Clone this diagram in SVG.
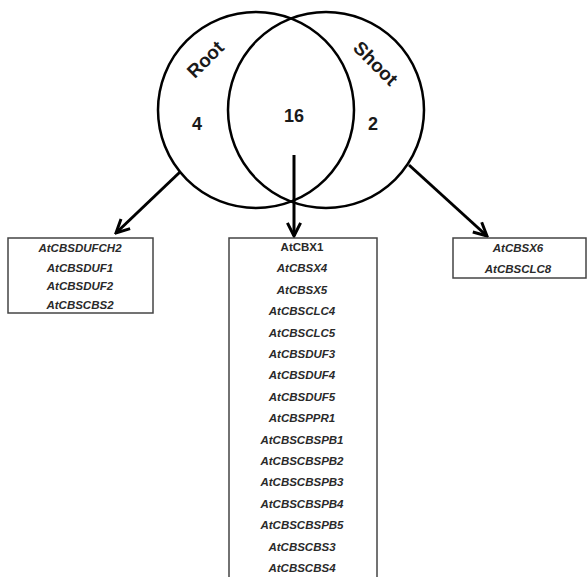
<svg xmlns="http://www.w3.org/2000/svg" width="588" height="577" viewBox="0 0 588 577">
<style>
.c{fill:none;stroke:#000;stroke-width:2.5}
.lbl{font-family:"Liberation Sans",Arial,sans-serif;font-weight:bold;font-size:19px;fill:#1a1a1a;text-anchor:middle}
.num{font-size:18px}
.box{fill:#fff;stroke:#444;stroke-width:1.5}
.g{font-family:"Liberation Sans",Arial,sans-serif;font-weight:bold;font-style:italic;font-size:11.5px;fill:#2a2a2a;text-anchor:middle}
.up{font-style:normal}
.arr{stroke:#000;stroke-width:3;fill:none}
</style>
<defs>
<marker id="ah" viewBox="0 0 10 10" refX="9" refY="5" markerWidth="5.5" markerHeight="5.5" orient="auto" markerUnits="strokeWidth">
<path d="M1,1 L9,5 L1,9" fill="none" stroke="#000" stroke-width="1.8"/>
</marker>
</defs>
<g id="venn">
<circle class="c" cx="256" cy="110" r="98"/>
<circle class="c" cx="326" cy="110" r="98"/>
<text class="lbl" transform="translate(210,64) rotate(-45)">Root</text>
<text class="lbl" transform="translate(371,68) rotate(45)">Shoot</text>
<text class="lbl num" x="197" y="130">4</text>
<text class="lbl num" x="294" y="122">16</text>
<text class="lbl num" x="373" y="130">2</text>
</g>
<g id="connectors">
<line class="arr" x1="180" y1="172" x2="116" y2="233" marker-end="url(#ah)"/>
<line class="arr" x1="294" y1="155" x2="294" y2="236" marker-end="url(#ah)"/>
<line class="arr" x1="409" y1="165" x2="487" y2="236" marker-end="url(#ah)"/>
</g>
<g id="root-box">
<rect class="box" x="8" y="238" width="145" height="75"/>
<text class="g" x="80" y="252">AtCBSDUFCH2</text>
<text class="g" x="80" y="271.5">AtCBSDUF1</text>
<text class="g" x="80" y="290">AtCBSDUF2</text>
<text class="g" x="80" y="308.5">AtCBSCBS2</text>
</g>
<g id="shared-box">
<rect class="box" x="229" y="238" width="148" height="360"/>
<text class="g up" x="302" y="251">AtCBX1</text>
<text class="g" x="302" y="272.4">AtCBSX4</text>
<text class="g" x="302" y="293.8">AtCBSX5</text>
<text class="g" x="302" y="315.2">AtCBSCLC4</text>
<text class="g" x="302" y="336.6">AtCBSCLC5</text>
<text class="g" x="302" y="358">AtCBSDUF3</text>
<text class="g" x="302" y="379.4">AtCBSDUF4</text>
<text class="g" x="302" y="400.8">AtCBSDUF5</text>
<text class="g" x="302" y="422.2">AtCBSPPR1</text>
<text class="g" x="302" y="443.6">AtCBSCBSPB1</text>
<text class="g" x="302" y="465">AtCBSCBSPB2</text>
<text class="g" x="302" y="486.4">AtCBSCBSPB3</text>
<text class="g" x="302" y="507.8">AtCBSCBSPB4</text>
<text class="g" x="302" y="529.2">AtCBSCBSPB5</text>
<text class="g" x="302" y="550.6">AtCBSCBS3</text>
<text class="g" x="302" y="572">AtCBSCBS4</text>
</g>
<g id="shoot-box">
<rect class="box" x="453" y="238" width="133" height="40"/>
<text class="g" x="518" y="252">AtCBSX6</text>
<text class="g" x="518" y="273">AtCBSCLC8</text>
</g>
</svg>
